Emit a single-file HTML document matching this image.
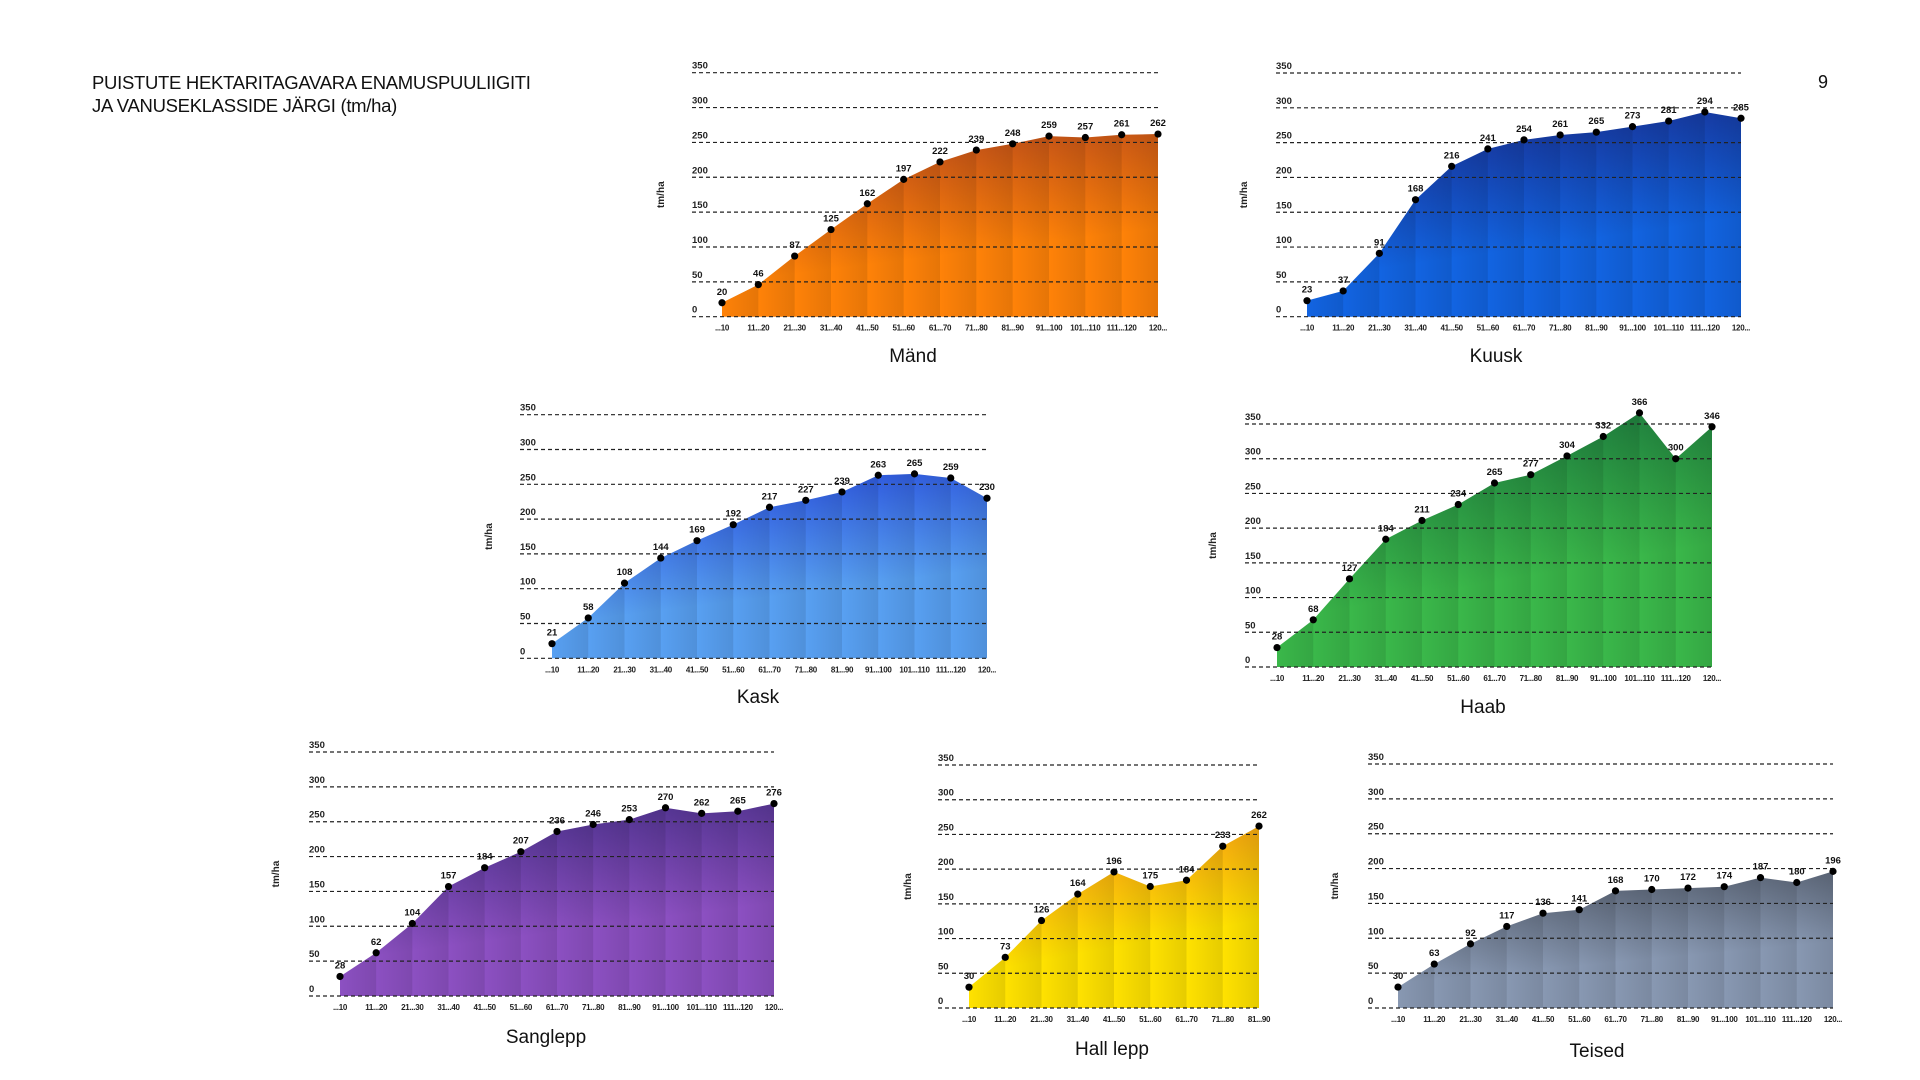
<!DOCTYPE html>
<html><head><meta charset="utf-8">
<style>
html,body{margin:0;padding:0;background:#fff;width:1920px;height:1080px;overflow:hidden;font-family:"Liberation Sans",sans-serif}
#hdr{position:absolute;left:92px;top:71px;font-size:18.5px;line-height:23px;color:#111;letter-spacing:-0.3px}
#pg{position:absolute;left:1818px;top:72px;font-size:18px;color:#111}
svg{position:absolute;left:0;top:0}
</style></head><body>
<div id="hdr">PUISTUTE HEKTARITAGAVARA ENAMUSPUULIIGITI<br>JA VANUSEKLASSIDE JÄRGI (tm/ha)</div>
<div id="pg">9</div>
<svg id="svg" width="1920" height="1080" xmlns="http://www.w3.org/2000/svg"><defs id="defs"></defs></svg>
<script>
const yTicks=[0,50,100,150,200,250,300,350];
const catsLong=["...10","11...20","21...30","31...40","41...50","51...60","61...70","71...80","81...90","91...100","101...110","111...120","120..."];
const catsShort=["...10","11...20","21...30","31...40","41...50","51...60","61...70","71...80","81...90"];
const mandValues=[20,46,87,125,162,197,222,239,248,259,257,261,262];
const kuuskValues=[23,37,91,168,216,241,254,261,265,273,281,294,285];
const kaskValues=[21,58,108,144,169,192,217,227,239,263,265,259,230];
const haabValues=[28,68,127,184,211,234,265,277,304,332,366,300,346];
const sangleppValues=[28,62,104,157,184,207,236,246,253,270,262,265,276];
const hallleppValues=[30,73,126,164,196,175,184,233,262];
const teisedValues=[30,63,92,117,136,141,168,170,172,174,187,180,196];

const charts=[
 {name:"mand",title:"Mänd",cats:catsLong,vals:mandValues,gl:692,gr:1158,y350:72.7,y0:316.7,x0:722,x1:1158,tx:913,ty:362,yl:664,c1:"#b2441c",c2:"#ff8208"},
 {name:"kuusk",title:"Kuusk",cats:catsLong,vals:kuuskValues,gl:1276,gr:1741,y350:73,y0:316.7,x0:1307,x1:1741,tx:1496,ty:362,yl:1247,c1:"#182785",c2:"#1264e2"},
 {name:"kask",title:"Kask",cats:catsLong,vals:kaskValues,gl:520,gr:987,y350:414.7,y0:658.3,x0:552,x1:987,tx:758,ty:703,yl:492,c1:"#2142d8",c2:"#58a0f2"},
 {name:"haab",title:"Haab",cats:catsLong,vals:haabValues,gl:1245,gr:1712,y350:424,y0:667,x0:1277,x1:1712,tx:1483,ty:713,yl:1216,c1:"#156a3a",c2:"#3ab84a"},
 {name:"sanglepp",title:"Sanglepp",cats:catsLong,vals:sangleppValues,gl:309,gr:774,y350:752,y0:996,x0:340,x1:774,tx:546,ty:1043,yl:279,c1:"#3e2a80",c2:"#8c50c2"},
 {name:"hall-lepp",title:"Hall lepp",cats:catsShort,vals:hallleppValues,gl:938,gr:1260,y350:765,y0:1008,x0:969,x1:1259,tx:1112,ty:1055,yl:911,c1:"#f08818",c2:"#ffe200"},
 {name:"teised",title:"Teised",cats:catsLong,vals:teisedValues,gl:1368,gr:1833,y350:764,y0:1008,x0:1398,x1:1833,tx:1597,ty:1057,yl:1338,c1:"#4a5260",c2:"#8898b2"}
];
const NS="http://www.w3.org/2000/svg";
const svg=document.getElementById("svg"),defs=document.getElementById("defs");
function mk(tag,attrs,parent){const e=document.createElementNS(NS,tag);for(const k in attrs)e.setAttribute(k,attrs[k]);(parent||svg).appendChild(e);return e;}
charts.forEach(c=>{
 const g=mk("g",{});
 
 
 const ys=v=>c.y0-(v/350)*(c.y0-c.y350);
 const n=c.vals.length;
 const xs=i=>c.x0+i*(c.x1-c.x0)/(n-1);
 const gid="grad-"+c.name;
 const lg=mk("linearGradient",{id:gid,x1:"0",y1:"0",x2:"0.3",y2:"1"},defs);
 mk("stop",{offset:"0",  "stop-color":c.c1},lg);
 mk("stop",{offset:"0.75","stop-color":c.c2},lg);
 mk("stop",{offset:"1","stop-color":c.c2},lg);
 let d="M"+xs(0)+","+c.y0;
 c.vals.forEach((v,i)=>{d+=" L"+xs(i)+","+ys(v);});
 d+=" L"+xs(n-1)+","+c.y0+" Z";
 const area=mk("path",{d:d,fill:"url(#"+gid+")"},g);
 
 
 for(let i=0;i<n-1;i++){
  const sgid=gid+"-s"+i;
  const sg=mk("linearGradient",{id:sgid,x1:"0",y1:"0",x2:"1",y2:"0"},defs);
  mk("stop",{offset:"0","stop-color":"#000","stop-opacity":"0.0"},sg);
  mk("stop",{offset:"1","stop-color":"#000","stop-opacity":"0.10"},sg);
  const seg=mk("polygon",{points:`${xs(i)},${c.y0} ${xs(i)},${ys(c.vals[i])} ${xs(i+1)},${ys(c.vals[i+1])} ${xs(i+1)},${c.y0}`,fill:"url(#"+sgid+")"},g);
  
  
 }
 yTicks.forEach(t=>{
  const y=ys(t);
  const ln=mk("line",{x1:c.gl,x2:c.gr,y1:y,y2:y,stroke:"#222","stroke-width":"1.2","stroke-dasharray":"4,3"},g);
  
  
  const tl=mk("text",{x:c.gl,y:y-4,"font-size":"9.5","font-weight":"bold",fill:"#222"},g);
  tl.textContent=t;
  
  
 });
 const yt=mk("text",{x:c.yl,y:(c.y0+c.y350)/2,"font-size":"10","font-weight":"bold",fill:"#222","text-anchor":"middle",transform:`rotate(-90 ${c.yl} ${(c.y0+c.y350)/2})`},g);
 yt.textContent="tm/ha";
 
 
 c.vals.forEach((v,i)=>{
  const p=mk("circle",{cx:xs(i),cy:ys(v),r:"3.6",fill:"#000"},g);
  
  
  const vl=mk("text",{x:xs(i),y:ys(v)-8,"font-size":"9.5","font-weight":"bold",fill:"#111","text-anchor":"middle"},g);
  vl.textContent=v;
  
  
 });
 c.cats.forEach((k,i)=>{
  const xl=mk("text",{x:xs(i),y:c.y0+14,"font-size":"8","font-weight":"bold",fill:"#222","text-anchor":"middle","letter-spacing":"-0.3"},g);
  xl.textContent=k;
  
  
 });
 const tt=mk("text",{x:c.tx,y:c.ty,"font-size":"19",fill:"#111","text-anchor":"middle"},g);
 tt.textContent=c.title;
 
 
});
</script>
</body></html>
